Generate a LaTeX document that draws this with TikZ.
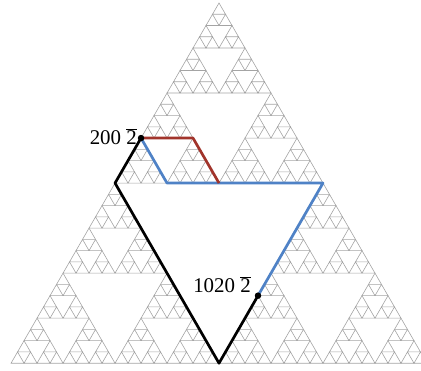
\documentclass[tikz,border=0pt]{standalone}
\usepackage{fontspec}
\setmainfont{Liberation Serif}
\usepackage{tikz}
\usetikzlibrary{calc}
\definecolor{sgray}{HTML}{A4A4A4}
\definecolor{walkblue}{HTML}{4F82C6}
\definecolor{walkred}{HTML}{A1342B}
\def\hh{0.8660254}

\begin{document}
\begin{tikzpicture}[
 x=13bp,y=13bp,
 font=\fontsize{21}{24}\selectfont,
 tri/.style={draw=sgray,line width=0.6bp},
 walk/.style={line width=2.7bp,line join=round},
 dot/.style={circle,fill=black,inner sep=0pt,minimum size=6.5bp},
 addr/.style={anchor=base east,inner sep=0pt}
]
\useasboundingbox (-16.85,0.23) rectangle (15.54,-28.31);
\clip (-16.85,0.23) rectangle (15.54,-28.31);
% gasket, level 5: (row,index) of each small triangle's top corner
\foreach \a in {0,1,2}{
 \foreach \b in {0,1,2}{
  \foreach \c in {0,1,2}{
   \foreach \d in {0,1,2}{
    \foreach \e in {0,1,2}{
     \pgfmathtruncatemacro\row{16*(\a>0)+8*(\b>0)+4*(\c>0)+2*(\d>0)+(\e>0)}
     \pgfmathtruncatemacro\idx{16*(\a==2)+8*(\b==2)+4*(\c==2)+2*(\d==2)+(\e==2)}
     \draw[tri] ({\idx-\row/2},{-\row*\hh}) -- ++(-0.5,-\hh) -- ++(1,0) -- cycle;
    }}}}}
% corners of the walks
\coordinate (start) at (-6,{-12*\hh});
\coordinate (lmid) at (-8,{-16*\hh});
\coordinate (bmid) at (0,{-32*\hh});
\coordinate (goal) at (3,{-26*\hh});
\coordinate (bturn) at (-4,{-16*\hh});
\coordinate (rmid) at (8,{-16*\hh});
\coordinate (rturn) at (-2,{-12*\hh});
\coordinate (rend) at (0,{-16*\hh});
\draw[walk,black] (start) -- (lmid) -- (bmid) -- (goal);
\draw[walk,walkblue] (start) -- (bturn) -- (rmid) -- (goal);
\draw[walk,walkred] (start) -- (rturn) -- (rend);
\node[dot] (dstart) at (start) {};
\node[dot] (dgoal) at (goal) {};
\node[addr,xshift=-4bp,yshift=-6bp] (lstart) at (start) {200 $\overline{\mbox{2}}$};
\node[addr,xshift=-7bp,yshift=3bp] (lgoal) at (goal) {1020 $\overline{\mbox{2}}$};
\end{tikzpicture}
\end{document}
